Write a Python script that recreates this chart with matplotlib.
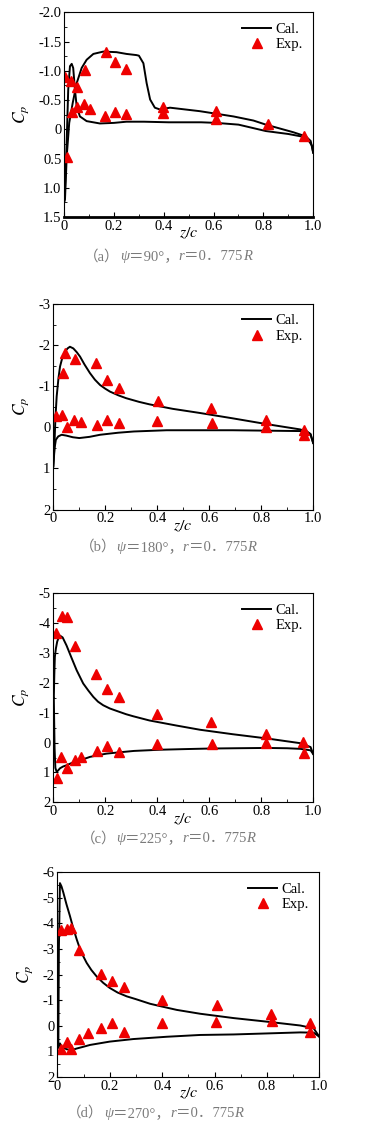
import matplotlib
matplotlib.use("Agg")
import matplotlib.pyplot as plt
from matplotlib.ticker import MultipleLocator, FixedLocator, FixedFormatter
from matplotlib.offsetbox import TextArea, HPacker, AnchoredOffsetbox

plt.rcParams['font.family'] = ['Liberation Serif', 'Noto Sans CJK SC']
plt.rcParams['mathtext.fontset'] = 'stix'

# === (a) psi = 90 deg ===
a_c1_z = [0.0, 0.003, 0.01, 0.016, 0.023, 0.03, 0.036, 0.043, 0.05, 0.063, 0.09, 0.143, 0.2, 0.25,
          0.32, 0.42, 0.55, 0.61, 0.7, 0.81, 0.9, 0.95, 0.98, 0.995, 1.0]
a_c1_cp = [1.2, 1.03, 0.18, -0.68, -1.08, -1.12, -1.05, -0.68, -0.39, -0.22, -0.14, -0.10, -0.11, -0.13,
           -0.13, -0.12, -0.12, -0.11, -0.08, 0.03, 0.08, 0.12, 0.18, 0.28, 0.4]
a_c2_z = [0.0, 0.003, 0.01, 0.02, 0.034, 0.05, 0.07, 0.09, 0.117, 0.157, 0.21, 0.25, 0.29, 0.30,
          0.318, 0.331, 0.345, 0.364, 0.384, 0.425, 0.545, 0.68, 0.76, 0.81, 0.92, 0.97, 0.99, 1.0]
a_c2_cp = [1.25, 1.2, 0.46, -0.11, -0.45, -0.79, -1.05, -1.19, -1.29, -1.33, -1.32, -1.29, -1.27, -1.26,
           -1.13, -0.79, -0.51, -0.37, -0.34, -0.37, -0.31, -0.22, -0.15, -0.08, 0.05, 0.12, 0.2, 0.4]
a_exp_z = [0.005, 0.027, 0.052, 0.083, 0.167, 0.205, 0.248, 0.395, 0.395, 0.61, 0.61, 0.82, 0.963,
           0.012, 0.032, 0.05, 0.079, 0.104, 0.162, 0.205, 0.25]
a_exp_cp = [-0.89, -0.82, -0.72, -1.01, -1.33, -1.15, -1.04, -0.39, -0.28, -0.32, -0.18, -0.09, 0.12,
            0.47, -0.29, -0.38, -0.44, -0.34, -0.22, -0.30, -0.26]
a_yticks = [-2.0, -1.5, -1.0, -0.5, 0, 0.5, 1.0, 1.5]
a_ylabels = ["-2.0", "-1.5", "-1.0", "-0.5", "0", "0.5", "1.0", "1.5"]

# === (b) psi = 180 deg ===
b_c1_z = [0.0, 0.004, 0.008, 0.013, 0.02, 0.026, 0.035, 0.045, 0.055, 0.064, 0.077, 0.09, 0.103, 0.12,
          0.141, 0.16, 0.18, 0.2, 0.218, 0.25, 0.28, 0.33, 0.37, 0.46, 0.564, 0.69, 0.82, 0.95, 0.975, 0.99, 1.0]
b_c1_cp = [0.95, 0.5, -0.2, -0.75, -1.2, -1.48, -1.7, -1.84, -1.92, -1.96, -1.92, -1.83, -1.72, -1.53,
           -1.32, -1.16, -1.03, -0.94, -0.87, -0.78, -0.71, -0.62, -0.56, -0.45, -0.35, -0.22, -0.08, 0.05, 0.1, 0.16, 0.38]
b_c2_z = [0.0, 0.005, 0.01, 0.019, 0.032, 0.05, 0.075, 0.10, 0.14, 0.18, 0.25, 0.31, 0.436, 0.56,
          0.69, 0.82, 0.95, 0.975, 0.99, 1.0]
b_c2_cp = [0.95, 0.5, 0.3, 0.22, 0.18, 0.2, 0.24, 0.26, 0.23, 0.18, 0.13, 0.10, 0.07, 0.07,
           0.07, 0.08, 0.09, 0.1, 0.18, 0.38]
b_exp_z = [0.046, 0.036, 0.083, 0.164, 0.205, 0.254, 0.403, 0.606, 0.817, 0.011, 0.032, 0.051,
           0.079, 0.106, 0.167, 0.208, 0.254, 0.40, 0.612, 0.82, 0.965, 0.965]
b_exp_cp = [-1.82, -1.32, -1.66, -1.56, -1.16, -0.95, -0.63, -0.48, -0.18, -0.27, -0.29, -0.02,
            -0.18, -0.12, -0.06, -0.17, -0.10, -0.16, -0.10, -0.02, 0.07, 0.18]
b_yticks = [-3, -2, -1, 0, 1, 2]
b_ylabels = ["-3", "-2", "-1", "0", "1", "2"]

# === (c) psi = 225 deg ===
c_c1_z = [0.002, 0.004, 0.006, 0.01, 0.015, 0.02, 0.026, 0.036, 0.051, 0.071, 0.09, 0.115, 0.135,
          0.154, 0.172, 0.192, 0.218, 0.244, 0.28, 0.308, 0.37, 0.474, 0.564, 0.69, 0.82, 0.95, 0.99, 1.0]
c_c1_cp = [-1.5, -2.3, -2.87, -3.15, -3.38, -3.5, -3.58, -3.52, -3.25, -2.82, -2.42, -1.98, -1.74,
           -1.53, -1.37, -1.25, -1.14, -1.06, -0.95, -0.88, -0.74, -0.57, -0.43, -0.28, -0.14, 0.02, 0.15, 0.38]
c_c2_z = [0.002, 0.005, 0.008, 0.013, 0.019, 0.026, 0.038, 0.051, 0.077, 0.09, 0.128, 0.141, 0.18,
          0.205, 0.25, 0.31, 0.41, 0.5, 0.6, 0.7, 0.82, 0.9, 0.95, 0.99, 1.0]
c_c2_cp = [-1.5, 0.2, 0.85, 0.98, 0.93, 0.86, 0.8, 0.76, 0.66, 0.62, 0.52, 0.48, 0.41,
           0.37, 0.33, 0.28, 0.24, 0.22, 0.2, 0.19, 0.18, 0.19, 0.21, 0.26, 0.38]
c_exp_z = [0.009, 0.032, 0.054, 0.083, 0.165, 0.206, 0.253, 0.40, 0.608, 0.817, 0.962, 0.014,
           0.031, 0.051, 0.083, 0.108, 0.167, 0.205, 0.254, 0.40, 0.61, 0.82, 0.964]
c_exp_cp = [-3.66, -4.25, -4.22, -3.23, -2.31, -1.81, -1.53, -0.95, -0.70, -0.30, -0.02, 1.18,
            0.49, 0.85, 0.60, 0.49, 0.29, 0.13, 0.30, 0.06, 0.04, 0.02, 0.34]
c_yticks = [-5, -4, -3, -2, -1, 0, 1, 2]
c_ylabels = ["-5", "-4", "-3", "-2", "-1", "0", "1", "2"]

# === (d) psi = 270 deg ===
d_c1_z = [0.004, 0.006, 0.01, 0.016, 0.023, 0.035, 0.048, 0.06, 0.074, 0.09, 0.112, 0.13, 0.15,
          0.175, 0.2, 0.23, 0.265, 0.3, 0.354, 0.4, 0.456, 0.545, 0.673, 0.8, 0.927, 0.978, 1.0]
d_c1_cp = [0.85, -3.0, -5.58, -5.45, -5.21, -4.75, -4.30, -3.85, -3.38, -2.9, -2.46, -2.18, -1.93,
           -1.68, -1.48, -1.3, -1.15, -1.04, -0.86, -0.75, -0.62, -0.47, -0.30, -0.16, -0.01, 0.10, 0.43]
d_c2_z = [0.004, 0.008, 0.01, 0.017, 0.036, 0.055, 0.074, 0.1, 0.125, 0.2, 0.29, 0.418, 0.545,
          0.673, 0.8, 0.927, 0.978, 1.0]
d_c2_cp = [0.85, 0.75, 0.69, 0.82, 0.92, 0.95, 0.89, 0.82, 0.75, 0.62, 0.52, 0.43, 0.36,
           0.34, 0.30, 0.26, 0.27, 0.43]
d_exp_z = [0.014, 0.036, 0.051, 0.084, 0.167, 0.21, 0.255, 0.399, 0.609, 0.815, 0.82, 0.963,
           0.014, 0.036, 0.051, 0.084, 0.116, 0.167, 0.207, 0.255, 0.399, 0.606, 0.963]
d_exp_cp = [-3.74, -3.77, -3.81, -2.96, -2.03, -1.76, -1.51, -1.02, -0.82, -0.45, -0.20, -0.12,
            0.92, 0.62, 0.92, 0.53, 0.30, 0.10, -0.10, 0.23, -0.10, -0.14, 0.26]
d_yticks = [-6, -5, -4, -3, -2, -1, 0, 1, 2]
d_ylabels = ["-6", "-5", "-4", "-3", "-2", "-1", "0", "1", "2"]

x_ticks = [0, 0.2, 0.4, 0.6, 0.8, 1.0]
x_labels = ["0", "0.2", "0.4", "0.6", "0.8", "1.0"]
captions = [("（a）", "90°"), ("（b）", "180°"), ("（c）", "225°"), ("（d）", "270°")]

panels = [
    (a_c1_z, a_c1_cp, a_c2_z, a_c2_cp, a_exp_z, a_exp_cp, a_yticks, a_ylabels),
    (b_c1_z, b_c1_cp, b_c2_z, b_c2_cp, b_exp_z, b_exp_cp, b_yticks, b_ylabels),
    (c_c1_z, c_c1_cp, c_c2_z, c_c2_cp, c_exp_z, c_exp_cp, c_yticks, c_ylabels),
    (d_c1_z, d_c1_cp, d_c2_z, d_c2_cp, d_exp_z, d_exp_cp, d_yticks, d_ylabels),
]

# axes boxes in figure fractions [left, bottom, width, height], caption position
boxes = [
    ([0.176, 0.808, 0.682, 0.181], (0.46, 0.773)),
    ([0.146, 0.549, 0.712, 0.182], (0.46, 0.516)),
    ([0.146, 0.290, 0.712, 0.185], (0.46, 0.258)),
    ([0.157, 0.047, 0.718, 0.181], (0.425, 0.015)),
]

fig = plt.figure(figsize=(3.65, 11.3), dpi=100)

for i, (pan, (box, cap_xy)) in enumerate(zip(panels, boxes)):
    z1, cp1, z2, cp2, ez, ecp, yt, yl = pan
    ax = fig.add_axes(box)
    ax.plot(z1, cp1, color='black', lw=1.4, label='Cal.')
    ax.plot(z2, cp2, color='black', lw=1.4)
    ax.plot(ez, ecp, linestyle='none', marker='^', color='#ee0000', ms=7, label='Exp.')

    ax.set_xlim(0, 1.0)
    ax.set_ylim(yt[-1], yt[0])  # inverted: negative Cp at top
    ax.yaxis.set_major_locator(FixedLocator(yt))
    ax.yaxis.set_major_formatter(FixedFormatter(yl))
    ax.yaxis.set_minor_locator(MultipleLocator((yt[1] - yt[0]) / 2))
    ax.xaxis.set_major_locator(FixedLocator(x_ticks))
    ax.xaxis.set_major_formatter(FixedFormatter(x_labels))
    ax.xaxis.set_minor_locator(MultipleLocator(0.1))
    ax.tick_params(which='both', direction='in', labelsize=10.5, pad=2)
    ax.tick_params(which='major', length=3.5)
    ax.tick_params(which='minor', length=2)
    for sp in ax.spines.values():
        sp.set_linewidth(0.8)
    if i == 0:
        ax.spines['bottom'].set_linewidth(2)

    ax.set_xlabel('$z/c$', fontsize=11.5, labelpad=-5)
    ax.set_ylabel('$C_p$', fontsize=12.5, labelpad=5)

    ax.legend(loc='upper right', frameon=False, fontsize=10.5, handlelength=2.0,
              labelspacing=0.15, handletextpad=0.3, borderaxespad=0.3)

    # caption with italic symbols
    tag, ang = captions[i]
    gray = '#7a7a7a'
    pieces = [
        (tag, 'normal'), ('ψ', 'italic'), ('＝' + ang + '，', 'normal'),
        ('r', 'italic'), ('＝0．775', 'normal'), ('R', 'italic'),
    ]
    areas = [TextArea(t, textprops=dict(color=gray, fontsize=10.5, style=s,
                                        family=['Liberation Serif', 'Noto Sans CJK SC']))
             for t, s in pieces]
    pack = HPacker(children=areas, align='baseline', pad=0, sep=0)
    anc = AnchoredOffsetbox(loc='center', child=pack, frameon=False, pad=0, borderpad=0,
                            bbox_to_anchor=cap_xy, bbox_transform=fig.transFigure)
    fig.add_artist(anc)

fig.savefig('out.png', dpi=100)
